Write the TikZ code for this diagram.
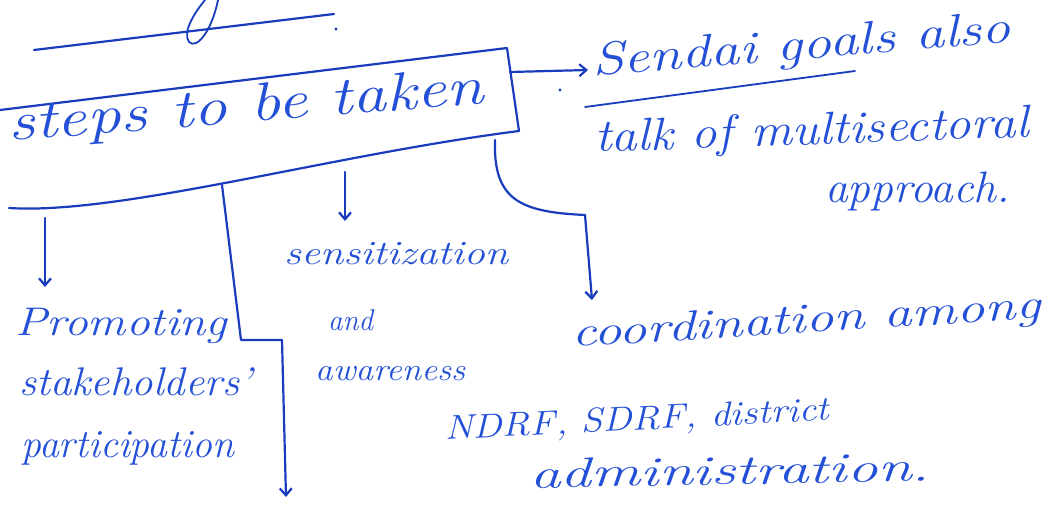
\documentclass[tikz,border=0pt]{standalone}
\usetikzlibrary{arrows.meta}
\definecolor{ink}{RGB}{25,60,190}
\definecolor{inkt}{RGB}{35,80,215}
\newcommand{\hw}[3]{\resizebox{#1pt}{\height}{\fontsize{#2}{#2}\selectfont\itshape #3}}
\begin{document}
\begin{tikzpicture}[x=1pt,y=-1pt,
  line/.style={draw=ink, line width=2.2pt, line cap=round, line join=round},
  arr/.style={line, -{Straight Barb[length=7pt,width=12pt]}},
  hand/.style={text=inkt, inner sep=0pt, anchor=base west}]
\useasboundingbox[fill=white] (0,0) rectangle (1062,511);
% top fragment
\coordinate (t1) at (34,50);
\coordinate (t2) at (334,14);
\draw[line] (t1) -- (t2);
\fill[ink] (336,29) circle (1.6pt);
\draw[line, line width=1.8pt] (218,0) .. controls (212,30) and (197,50) .. (189,42) .. controls (182,32) and (195,12) .. (205,0);
% box
\coordinate (bTL) at (0,110);
\coordinate (bTR) at (507,48);
\coordinate (bBR) at (519,131);
\coordinate (bBL) at (9,208);
\draw[line] (bTL) -- (bTR) -- (bBR) .. controls (330,155) and (120,215) .. (bBL);
\node[hand, rotate=4.5] (steps) at (9,141) {\hw{477}{54}{steps to be taken}};
% right: Sendai
\node[hand, rotate=4.6] (sendai) at (593,76) {\hw{420}{46}{Sendai goals also}};
\node[hand, rotate=2] (talk) at (595,152) {\hw{434}{46}{talk of multisectoral}};
\node[hand] (appr) at (825,202) {\hw{185}{44}{approach.}};
\coordinate (aS) at (510,72);
\coordinate (aE) at (588,70);
\draw[arr] (aS) -- (aE);
\coordinate (u1) at (585,107);
\coordinate (u2) at (855,71);
\draw[line, line width=1.8pt] (u1) -- (u2);
\fill[ink] (560,90) circle (1.6pt);
% left branch
\coordinate (l1) at (45,218);
\coordinate (l2) at (45,287);
\draw[arr] (l1) -- (l2);
\node[hand] (prom) at (15,335) {\hw{212}{40}{Promoting}};
\node[hand] (stake) at (19,395) {\hw{233}{40}{stakeholders'}};
\node[hand] (part) at (21,457) {\hw{213}{40}{participation}};
% L-shaped line
\coordinate (k1) at (222,185);
\coordinate (k2) at (241,340);
\coordinate (k3) at (282,340);
\coordinate (k4) at (286,497);
\draw[arr] (k1) -- (k2) -- (k3) -- (k4);
% middle
\coordinate (m1) at (345,172);
\coordinate (m2) at (345,221);
\draw[arr] (m1) -- (m2);
\node[hand] (sens) at (284,264) {\hw{224}{34}{sensitization}};
\node[hand] (and) at (328,330) {\hw{45}{30}{and}};
\node[hand] (aware) at (315,380) {\hw{150}{32}{awareness}};
% right branch
\coordinate (r1) at (495,140);
\coordinate (r2) at (585,215);
\coordinate (r3) at (592,300);
\draw[line] (r1) .. controls (493,200) and (520,212) .. (r2);
\draw[arr] (r2) -- (r3);
\node[hand, rotate=3.5] (coord) at (572,347) {\hw{470}{42}{coordination among}};
\node[hand, rotate=3] (ndrf) at (445,440) {\hw{385}{34}{NDRF, SDRF, district}};
\node[hand, rotate=1] (admin) at (530,488) {\hw{400}{42}{administration.}};
\end{tikzpicture}
\end{document}
